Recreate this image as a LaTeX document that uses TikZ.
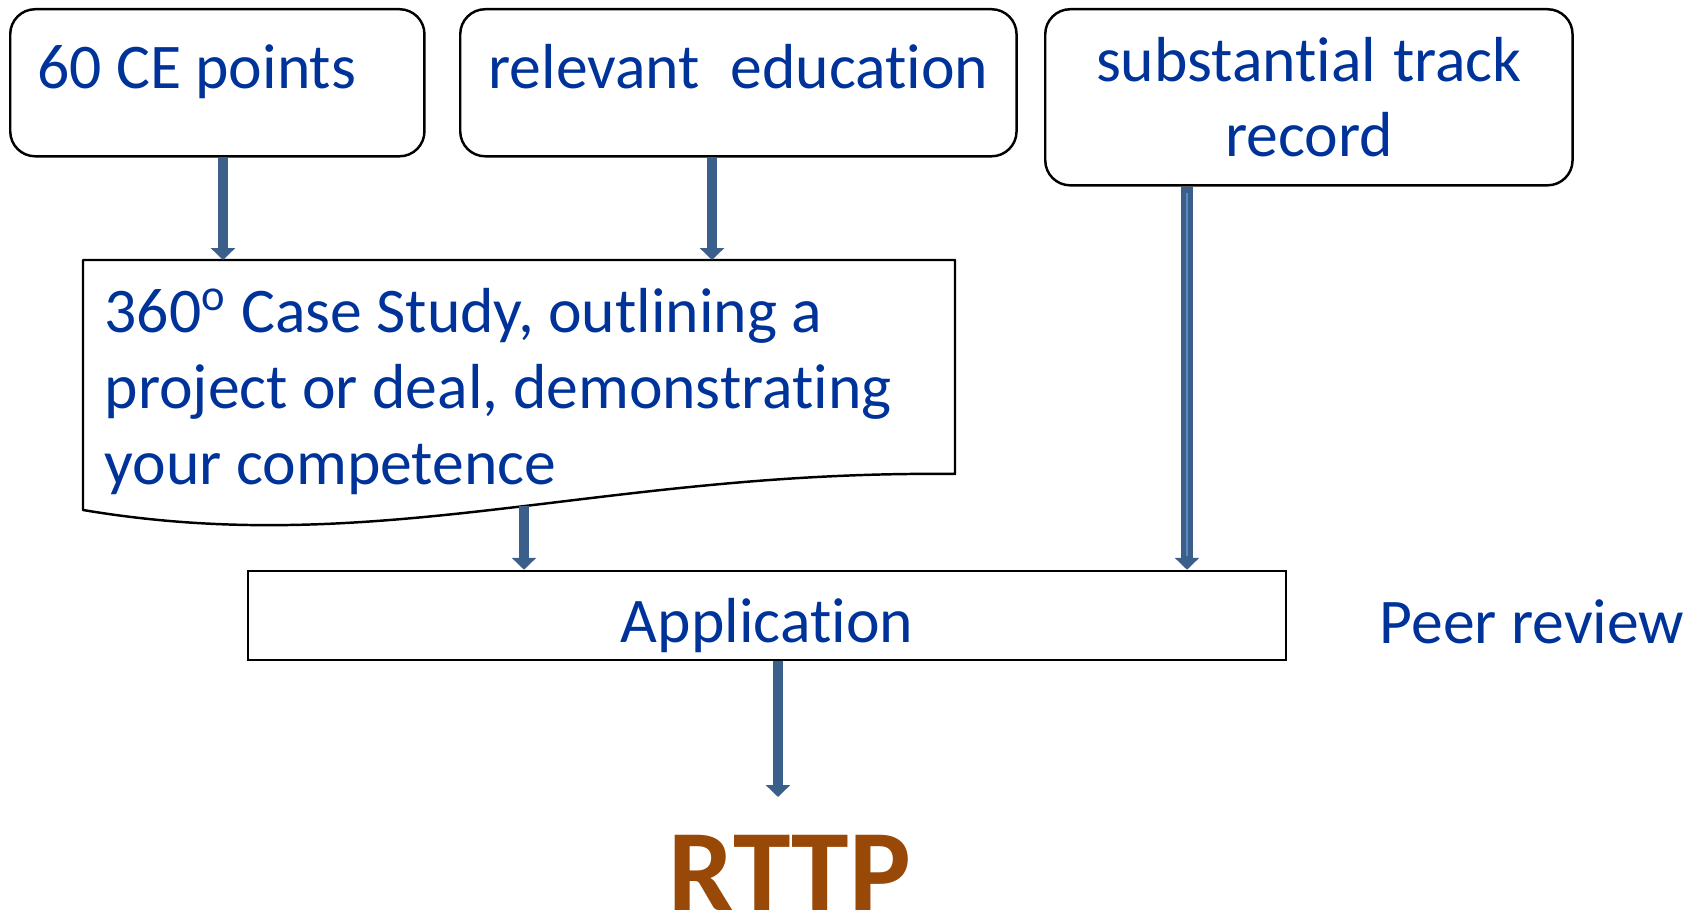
\documentclass[tikz,border=0pt]{standalone}
\usepackage{fontspec}
\setmainfont{Carlito}[Ligatures=NoCommon]
\usepackage{xcolor}
\usepackage{tikz}
\usetikzlibrary{calc,arrows.meta}
\definecolor{txtblue}{HTML}{003399}
\definecolor{arrowblue}{HTML}{3A5F8B}
\definecolor{shine}{HTML}{5E88C2}
\definecolor{rttpbrown}{HTML}{984807}
\tikzset{
  req/.style={draw=black, line width=0.7pt, rounded corners=0.25cm, text=txtblue, font=\fontsize{18.1}{21.4}\selectfont,
    inner ysep=0pt, execute at begin node={\spaceskip=0pt\xspaceskip=0pt}},
  app/.style={draw=black, line width=0.7pt, text=txtblue, font=\fontsize{18.1}{21.5}\selectfont, inner sep=0pt},
  doc/.style={draw=black, line width=0.7pt, line join=round},
  flow/.style={draw=arrowblue, line width=2.8pt, -{Triangle[width=6.8pt,length=3.4pt]}},
  lab/.style={text=txtblue, font=\fontsize{18.1}{21.55}\selectfont, inner sep=0pt},
  goal/.style={text=rttpbrown, font=\fontsize{33}{40}\selectfont\bfseries, inner sep=0pt},
}

\begin{document}
\begin{tikzpicture}[x=0.01cm,y=-0.01cm]
  \useasboundingbox (0,0) rectangle (1700,916);
  % requirements
  \node[req, anchor=north west, inner xsep=0.27cm, text width=3.6cm, align=left,
        text height=0.79cm, text depth=0.68cm] (ce) at (9,8) {60 CE points};
  \node[req, anchor=north west, inner xsep=0.1cm, text width=5.36cm, align=center,
        text height=0.79cm, text depth=0.68cm] (edu) at (459,8) {relevant~~education};
  \node[req, anchor=north west, inner xsep=0.1cm, text width=5.07cm, align=center,
        minimum height=1.76cm] (track) at (1044,8) {\rule{0pt}{0.08cm}substantial track\\record};
  % case study document
  \draw[doc] (83,260) coordinate (docNW) -- (955,260) -- (955,474)
    .. controls (600,470) and (380,560) .. (83,510) -- cycle;
  \coordinate (wave) at (524,506);
  \node[lab, anchor=north west, align=left] (case) at (104,288)
    {360\textsuperscript{o} Case Study, outlining a\\project or deal, demonstrating\\your competence};
  % application
  \node[app, minimum width=10.37cm, text height=0.71cm, text depth=0.18cm] (app) at (767,615.5) {Application};
  \node[lab, anchor=base west] (peer) at (1379,643) {Peer review};
  \node[goal, anchor=base] (rttp) at (790,910) {RTTP};
  \coordinate (goaltip) at (778,797);
  % arrows
  \draw[flow] (223,0 |- ce.south) -- (223,0 |- docNW);
  \draw[flow] (712,0 |- edu.south) -- (712,0 |- docNW);
  \draw[flow, line width=3.3pt] (1187,0 |- track.south) -- (1187,0 |- app.north);
  \draw[shine, line width=0.8pt] ($(1187,0 |- track.south)+(0,6)$) -- ($(1187,0 |- app.north)+(0,-14)$);
  \draw[flow] (wave) -- (524,0 |- app.north);
  \draw[flow] (778,0 |- app.south) -- (goaltip);
\end{tikzpicture}
\end{document}
